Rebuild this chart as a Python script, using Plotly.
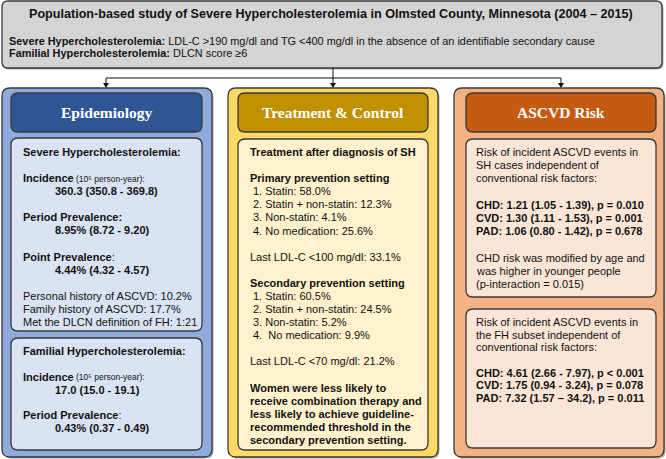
import plotly.graph_objects as go

W, H = 666, 459
SANS = "Liberation Sans, Arial, sans-serif"
SERIF = "Liberation Serif, Times New Roman, serif"

# ---- text content -------------------------------------------------------
title = "<b>Population-based study of Severe Hypercholesterolemia in Olmsted County, Minnesota (2004 – 2015)</b>"
definitions = [
    "<b>Severe Hypercholesterolemia:</b> LDL-C &gt;190 mg/dl and TG &lt;400 mg/dl in the absence of an identifiable secondary cause",
    "<b>Familial Hypercholesterolemia:</b> DLCN score ≥6",
]
headers = ["Epidemiology", "Treatment &amp; Control", "ASCVD Risk"]

inc_unit = "(10⁵ person-year):"
epi_sh = [
    ("<b>Severe Hypercholesterolemia:</b>", 0),
    ("", 0),
    ("<b>Incidence</b>", 0),
    ("<b>360.3 (350.8 - 369.8)</b>", 1),
    ("", 0),
    ("<b>Period Prevalence:</b>", 0),
    ("<b>8.95% (8.72 - 9.20)</b>", 1),
    ("", 0),
    ("<b>Point Prevalence</b>:", 0),
    ("<b>4.44% (4.32 - 4.57)</b>", 1),
    ("", 0),
    ("Personal history of ASCVD: 10.2%", 0),
    ("Family history of ASCVD: 17.7%", 0),
    ("Met the DLCN definition of FH: 1:21", 0),
]
epi_fh = [
    ("<b>Familial Hypercholesterolemia:</b>", 0),
    ("", 0),
    ("<b>Incidence</b>", 0),
    ("<b>17.0 (15.0 - 19.1)</b>", 1),
    ("", 0),
    ("<b>Period Prevalence</b>:", 0),
    ("<b>0.43% (0.37 - 0.49)</b>", 1),
]
treat = [
    ("<b>Treatment after diagnosis of SH</b>", 0),
    ("", 0),
    ("<b>Primary prevention setting</b>", 0),
    ("1. Statin: 58.0%", 1),
    ("2. Statin + non-statin: 12.3%", 1),
    ("3. Non-statin: 4.1%", 1),
    ("4. No medication: 25.6%", 1),
    ("", 0),
    ("Last LDL-C &lt;100 mg/dl: 33.1%", 0),
    ("", 0),
    ("<b>Secondary prevention setting</b>", 0),
    ("1. Statin: 60.5%", 1),
    ("2. Statin + non-statin: 24.5%", 1),
    ("3. Non-statin: 5.2%", 1),
    ("4.  No medication: 9.9%", 1),
    ("", 0),
    ("Last LDL-C &lt;70 mg/dl: 21.2%", 0),
    ("", 0),
    ("<b>Women were less likely to</b>", 0),
    ("<b>receive combination therapy and</b>", 0),
    ("<b>less likely to achieve guideline-</b>", 0),
    ("<b>recommended threshold in the</b>", 0),
    ("<b>secondary prevention setting.</b>", 0),
]
risk_sh = [
    ("Risk of incident ASCVD events in", 0),
    ("SH cases independent of", 0),
    ("conventional risk factors:", 0),
    ("", 0),
    ("<b>CHD: 1.21 (1.05 - 1.39), p = 0.010</b>", 0),
    ("<b>CVD: 1.30 (1.11 - 1.53), p = 0.001</b>", 0),
    ("<b>PAD: 1.06 (0.80 - 1.42), p = 0.678</b>", 0),
    ("", 0),
    ("CHD risk was modified by age and", 0),
    ("was higher in younger people", 0),
    ("(p-interaction = 0.015)", 0),
]
risk_fh = [
    ("Risk of incident ASCVD events in", 0),
    ("the FH subset independent of", 0),
    ("conventional risk factors:", 0),
    ("", 0),
    ("<b>CHD: 4.61 (2.66 - 7.97), p &lt; 0.001</b>", 0),
    ("<b>CVD: 1.75 (0.94 - 3.24), p = 0.078</b>", 0),
    ("<b>PAD: 7.32 (1.57 – 34.2), p = 0.011</b>", 0),
]

# ---- layout / style ------------------------------------------------------
cols = [(2, 212), (228, 438), (454, 664)]
outer_fill = ["#8faadc", "#ffd966", "#f4b183"]
head_fill = ["#2f5597", "#bf9000", "#c55a11"]
inner_fill = ["#dae3f3", "#fff2cc", "#fbe5d6"]
EDGE = "#3a3a3a"


def rrect(x0, y0, x1, y1, r):
    return (f"M {x0+r},{y0} L {x1-r},{y0} Q {x1},{y0} {x1},{y0+r} "
            f"L {x1},{y1-r} Q {x1},{y1} {x1-r},{y1} L {x0+r},{y1} "
            f"Q {x0},{y1} {x0},{y1-r} L {x0},{y0+r} Q {x0},{y0} {x0+r},{y0} Z")


shapes = []
annots = []


def box(x0, y0, x1, y1, fill, r=7, lw=1.3, shadow=True):
    if shadow:
        shapes.append(dict(type="path", path=rrect(x0 + 1.5, y0 + 1.5, x1 + 1.5, y1 + 1.5, r),
                           fillcolor="rgba(0,0,0,0.35)", line=dict(width=0), layer="below"))
    shapes.append(dict(type="path", path=rrect(x0, y0, x1, y1, r), fillcolor=fill,
                       line=dict(color=EDGE, width=lw), layer="below"))


def text(x, y, s, size=11, color="#111111", family=SANS, anchor="left"):
    annots.append(dict(x=x, y=y, xref="x", yref="y", text=s, showarrow=False,
                       xanchor=anchor, yanchor="middle",
                       font=dict(family=family, size=size, color=color)))


def lines(x, y0, items, step=12.9, indent=32):
    y = y0
    for s, ind in items:
        if s:
            text(x + (indent if ind else 0), y, s)
            if s == "<b>Incidence</b>":
                text(x + 53, y + 0.5, inc_unit, size=8.5)
        y += step


# top box
box(2, 1, 662, 68, "#d4d4d4", r=6)
text(331, 14, title, size=12.6, anchor="center")
text(7, 41, definitions[0], size=10.9)
text(7, 53, definitions[1], size=10.9)

# connectors
shapes.append(dict(type="line", x0=333, y0=68, x1=333, y1=78, line=dict(color="#111", width=1)))
shapes.append(dict(type="line", x0=106, y0=78, x1=561, y1=78, line=dict(color="#111", width=1)))
for xa in (106, 333, 561):
    shapes.append(dict(type="line", x0=xa, y0=78, x1=xa, y1=84, line=dict(color="#111", width=1)))
    shapes.append(dict(type="path", path=f"M {xa-3},{83} L {xa+3},{83} L {xa},{88} Z",
                       fillcolor="#111", line=dict(width=0)))

# columns
hx = [(11, 202), (238, 428), (466, 656)]
for i, (x0, x1) in enumerate(cols):
    box(x0, 88, x1, 457, outer_fill[i], r=8)
    box(hx[i][0], 93, hx[i][1], 132, head_fill[i], r=7, shadow=False)
    text((hx[i][0] + hx[i][1]) / 2, 112, f"<b>{headers[i]}</b>", size=15.5,
         color="white", family=SERIF, anchor="center")

# left column inner boxes
box(11, 138, 202, 331, inner_fill[0], shadow=False)
box(11, 338, 202, 450, inner_fill[0], shadow=False)
lines(21, 152, epi_sh, step=(322 - 152) / 13)
lines(21, 351, epi_fh, step=(428 - 351) / 6)

# middle column inner box
box(238, 139, 428, 450, inner_fill[1], shadow=False)
lines(248, 152, treat, step=(440 - 152) / 22, indent=3)

# right column inner boxes
box(466, 139, 656, 297, inner_fill[2], shadow=False)
box(466, 309, 656, 448, inner_fill[2], shadow=False)
lines(474, 152, risk_sh, step=(284 - 152) / 10)
lines(474, 322, risk_fh, step=(398 - 322) / 6)

fig = go.Figure()
fig.update_layout(
    width=W, height=H, autosize=False,
    margin=dict(l=0, r=0, t=0, b=0),
    paper_bgcolor="white", plot_bgcolor="white",
    xaxis=dict(range=[0, W], visible=False, fixedrange=True),
    yaxis=dict(range=[H, 0], visible=False, fixedrange=True),
    shapes=shapes, annotations=annots, showlegend=False,
)
fig.write_html(
    "out.html",
    config=dict(displayModeBar=False),
    post_script="document.body.style.margin='0';document.body.style.padding='0';document.body.style.overflow='hidden';",
)
